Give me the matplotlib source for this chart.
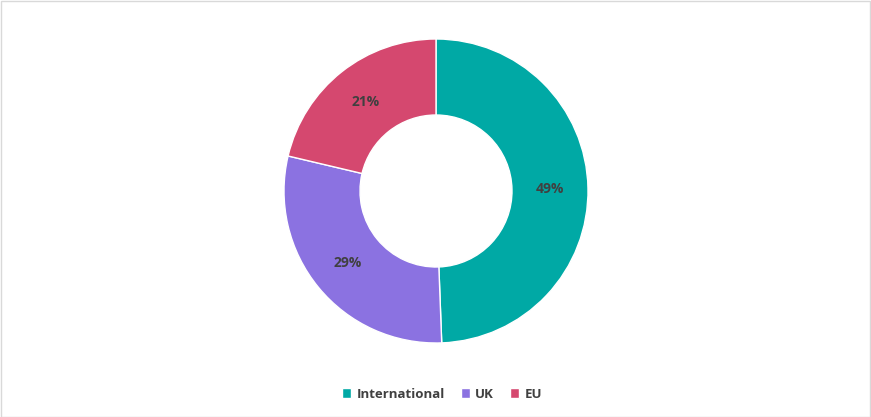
import matplotlib

matplotlib.use("Agg")
import matplotlib.pyplot as plt
import numpy as np
from matplotlib.patches import Rectangle

labels = ["International", "UK", "EU"]
shares = [49.4, 29.3, 21.3]
pct_text = ["49%", "29%", "21%"]
colors = ["#00A9A5", "#8B72E1", "#D5486F"]

plt.rcParams["font.family"] = ["Open Sans", "DejaVu Sans"]

W, H = 871, 417
fig = plt.figure(figsize=(W / 100, H / 100), dpi=100)
cx, cy, r = 436, 191, 152
ax = fig.add_axes([(cx - r) / W, (H - cy - r) / H, 2 * r / W, 2 * r / H])
wedges, _ = ax.pie(shares, colors=colors, startangle=90, counterclock=False,
                   wedgeprops=dict(width=0.5, edgecolor="white", linewidth=1))
for w, t in zip(wedges, pct_text):
    ang = np.deg2rad((w.theta1 + w.theta2) / 2)
    ax.text(0.75 * np.cos(ang), 0.75 * np.sin(ang), t, ha="center", va="center",
            fontsize=10, fontweight="bold", color="#404040")
ax.set_xlim(-1, 1); ax.set_ylim(-1, 1)

fig.legend(wedges, labels, loc="center", bbox_to_anchor=(442 / W, 1 - 394 / H),
           ncol=3, frameon=False, handlelength=0.7, handleheight=0.7,
           handletextpad=0.4, columnspacing=1.2,
           prop=dict(size=9.5, weight="bold"), labelcolor="#404040")

fig.patches.append(Rectangle((0.5 / W, 0.5 / H), 1 - 1.5 / W, 1 - 1.5 / H,
                             transform=fig.transFigure, fill=False,
                             edgecolor="#D9D9D9", linewidth=1))
fig.savefig("out.png", dpi=100)
